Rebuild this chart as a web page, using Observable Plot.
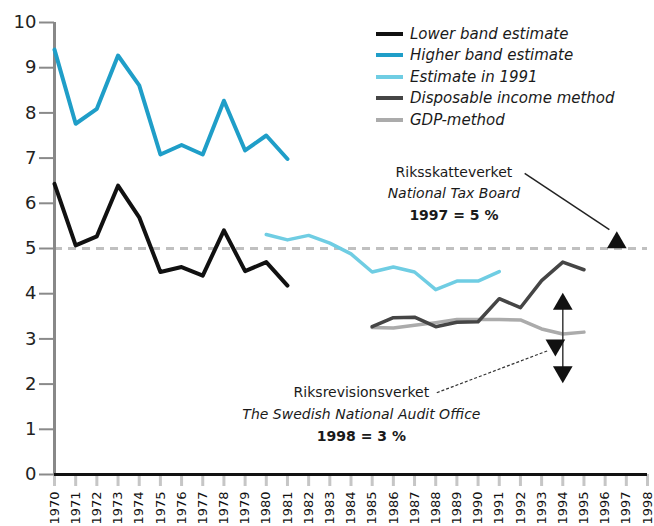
<!DOCTYPE html>
<html><head><meta charset="utf-8">
<script src="https://cdn.jsdelivr.net/npm/d3@7"></script>
<script src="https://cdn.jsdelivr.net/npm/@observablehq/plot@0.6"></script>
<style>
body{margin:0;background:#fff;}
#wrap{position:relative;width:654px;height:526px;overflow:hidden;font-family:"DejaVu Sans",sans-serif;}
#wrap svg{position:absolute;left:0;top:0;}
#legend{position:absolute;left:376px;top:23px;z-index:2;}
.row{display:flex;align-items:center;height:21.5px;}
.sw{width:27px;height:4px;margin-right:7px;}
.lab{font-style:italic;font-size:15px;color:#1a1a1a;white-space:nowrap;}
</style></head><body><div id="wrap"><div id="legend"></div></div>
<script>
// ---- data ----
const years = d3.range(1970, 1999);
const bandYears = d3.range(1970, 1982);
const lowerBand  = [6.43,5.07,5.27,6.39,5.69,4.48,4.59,4.40,5.40,4.50,4.70,4.18];
const higherBand = [9.40,7.76,8.09,9.27,8.61,7.08,7.29,7.08,8.27,7.17,7.50,6.98];
const est1991Years = d3.range(1980, 1992);
const estimate1991 = [5.31,5.19,5.29,5.12,4.88,4.48,4.59,4.48,4.09,4.28,4.28,4.49];
const methodYears = d3.range(1985, 1996);
const disposableIncome = [3.27,3.47,3.48,3.27,3.37,3.38,3.89,3.69,4.29,4.70,4.53];
const gdpMethod        = [3.25,3.24,3.30,3.36,3.43,3.43,3.43,3.42,3.22,3.11,3.15];
const yTicks = d3.range(0, 11);
const referenceLevel = 5;

const seriesNames = ["Lower band estimate","Higher band estimate","Estimate in 1991","Disposable income method","GDP-method"];
const seriesColors = ["#111111","#1f9ec8","#6fcde3","#454545","#ababab"];

const taxBoardText = ["Riksskatteverket","National Tax Board","1997 = 5 %"];
const auditText = ["Riksrevisionsverket","The Swedish National Audit Office","1998 = 3 %"];

// annotation anchors (data units: year, percent)
const taxBoardPos = {year: 1988.86, values: [6.69, 6.22, 5.73]};
const auditPos = {year: 1984.49, values: [1.82, 1.33, 0.83]};
const taxArrow = {x1: 1992.2, y1: 6.66, x2: 1996.2, y2: 5.42};
const auditArrow = {x1: 1988.05, y1: 1.81, x2: 1993.3, y2: 2.74};
const rangeArrow = {x1: 1994.0, y1: 3.8, x2: 1994.0, y2: 2.25};
const markers = [
  {year: 1996.55, value: 5.13, rotate: 0},
  {year: 1994.0, value: 3.77, rotate: 0},
  {year: 1994.0, value: 2.27, rotate: 180},
  {year: 1993.65, value: 2.86, rotate: 180}
];

// ---- build tables ----
const toRows = (ys, vs) => ys.map((y, i) => ({year: y, value: vs[i]}));
const lowerRows = toRows(bandYears, lowerBand);
const higherRows = toRows(bandYears, higherBand);
const estRows = toRows(est1991Years, estimate1991);
const dispRows = toRows(methodYears, disposableIncome);
const gdpRows = toRows(methodYears, gdpMethod);

const tax = taxBoardText.map((t, i) => ({t, year: taxBoardPos.year, value: taxBoardPos.values[i]}));
const aud = auditText.map((t, i) => ({t, year: auditPos.year, value: auditPos.values[i]}));
const txt = (rows, i, opts) => Plot.text([rows[i]], {x: "year", y: "value", text: "t", fill: "#1a1a1a", fontSize: 14, ...opts});

const chart = Plot.plot({
  width: 654, height: 526,
  marginLeft: 54, marginRight: 7, marginTop: 22, marginBottom: 52,
  style: {fontFamily: "DejaVu Sans", background: "transparent", overflow: "visible"},
  x: {domain: [1970, 1998]},
  y: {domain: [0, 10]},
  marks: [
    Plot.ruleY([referenceLevel], {x1: 1970, x2: 1998, stroke: "#c0c0c0", strokeWidth: 3, strokeDasharray: "8,6"}),
    Plot.axisX({ticks: years, tickFormat: d => String(d), tickSize: 12, tickPadding: 5, tickRotate: -90,
                stroke: "#c6c6c6", strokeWidth: 3, fill: "#111", fontSize: 13, label: null}),
    Plot.axisY({ticks: yTicks, tickSize: 15, tickPadding: 3, stroke: "#8a8a8a", strokeWidth: 2,
                fill: "#222", fontSize: 18, label: null}),
    Plot.ruleX([1970], {stroke: "#888", strokeWidth: 3}),
    Plot.ruleY([0], {stroke: "#111", strokeWidth: 3}),
    Plot.line(gdpRows, {x: "year", y: "value", stroke: seriesColors[4], strokeWidth: 3.5, strokeLinejoin: "round"}),
    Plot.line(dispRows, {x: "year", y: "value", stroke: seriesColors[3], strokeWidth: 3.5, strokeLinejoin: "round"}),
    Plot.line(estRows, {x: "year", y: "value", stroke: seriesColors[2], strokeWidth: 3.5, strokeLinejoin: "round"}),
    Plot.line(higherRows, {x: "year", y: "value", stroke: seriesColors[1], strokeWidth: 4, strokeLinejoin: "round"}),
    Plot.line(lowerRows, {x: "year", y: "value", stroke: seriesColors[0], strokeWidth: 4, strokeLinejoin: "round"}),
    Plot.link([taxArrow], {x1: "x1", y1: "y1", x2: "x2", y2: "y2", stroke: "#222", strokeWidth: 1.5}),
    Plot.link([auditArrow], {x1: "x1", y1: "y1", x2: "x2", y2: "y2", stroke: "#333", strokeWidth: 1.2, strokeDasharray: "3,2"}),
    Plot.link([rangeArrow], {x1: "x1", y1: "y1", x2: "x2", y2: "y2", stroke: "#444", strokeWidth: 1.6}),
    Plot.dot(markers, {x: "year", y: "value", symbol: "triangle", r: 7.3, fill: "#111", stroke: null, rotate: "rotate"}),
    txt(tax, 0, {}),
    txt(tax, 1, {fontStyle: "italic"}),
    txt(tax, 2, {fontWeight: "bold"}),
    txt(aud, 0, {}),
    txt(aud, 1, {fontStyle: "italic"}),
    txt(aud, 2, {fontWeight: "bold"})
  ]
});
document.getElementById("wrap").appendChild(chart);

const legend = d3.select("#legend");
seriesNames.forEach((n, i) => {
  const r = legend.append("div").attr("class", "row");
  r.append("div").attr("class", "sw").style("background", seriesColors[i]);
  r.append("div").attr("class", "lab").text(n);
});
</script></body></html>
